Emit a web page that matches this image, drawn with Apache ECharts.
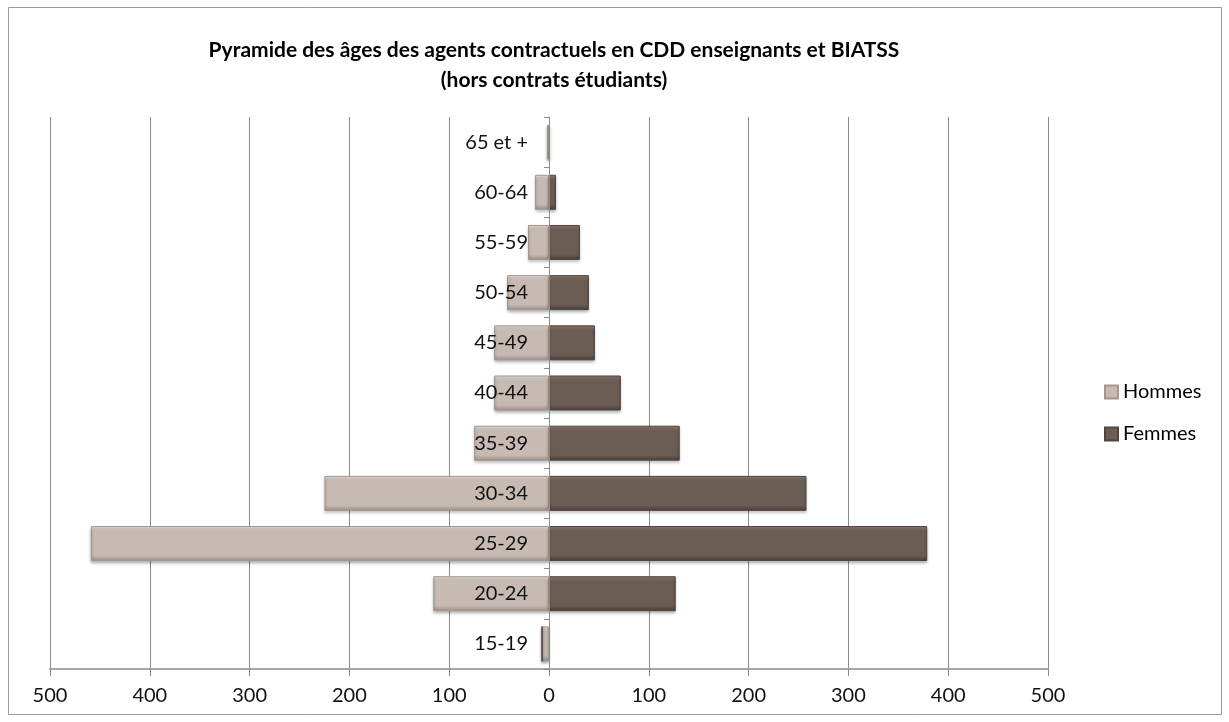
<!DOCTYPE html>
<html>
<head>
<meta charset="UTF-8">
<title>Pyramide des âges</title>
<script src="https://cdn.jsdelivr.net/npm/echarts@6/dist/echarts.min.js"></script>
<style>
body { margin: 0; padding: 0; background: #fff; }
#main { width: 1229px; height: 722px; }
</style>
</head>
<body>
<div id="main"></div>
<script>
// tranches d'âge, du bas vers le haut
var ages = ['15-19', '20-24', '25-29', '30-34', '35-39', '40-44', '45-49', '50-54', '55-59', '60-64', '65 et +'];
// hommes en négatif pour le côté gauche
var hommes = [-7, -116, -459, -225, -75, -55, -55, -42, -21, -14, -2];
var femmes = [0, 127, 379, 258, 131, 72, 46, 40, 31, 7, 1];
var ticks = [-500, -400, -300, -200, -100, 0, 100, 200, 300, 400, 500];

var font = 'Lato, "Noto Sans", sans-serif';

function bevel(light, base, dark) {
    return new echarts.graphic.LinearGradient(0, 0, 0, 1, [
        { offset: 0, color: light },
        { offset: 0.16, color: base },
        { offset: 0.84, color: base },
        { offset: 1, color: dark }
    ]);
}

var myChart = echarts.init(document.getElementById('main'));
var option = {
    animation: false,
    textStyle: { fontFamily: font },
    title: {
        text: 'Pyramide des âges des agents contractuels en CDD enseignants et BIATSS\n(hors contrats étudiants)',
        left: 549,
        top: 30,
        textAlign: 'center',
        textStyle: { fontFamily: font, fontSize: 21, fontWeight: 'bold', color: '#000', lineHeight: 30 }
    },
    legend: {
        orient: 'vertical',
        left: 1099,
        top: 377,
        itemWidth: 13,
        itemHeight: 13,
        itemGap: 22,
        icon: 'rect',
        textStyle: { fontFamily: font, fontSize: 20, color: '#000' },
        data: ['Hommes', 'Femmes']
    },
    graphic: [{
        type: 'rect',
        shape: { x: 8.5, y: 7.5, width: 1213, height: 707 },
        style: { fill: 'none', stroke: '#9a9a9a', lineWidth: 1 },
        silent: true
    }],
    grid: { left: 50, right: 181, top: 117, bottom: 53, outerBoundsMode: 'none', containLabel: false },
    xAxis: {
        type: 'value',
        min: ticks[0],
        max: ticks[ticks.length - 1],
        interval: 100,
        axisLine: { show: true, onZero: false, lineStyle: { color: '#a6a6a6', width: 2 } },
        axisTick: { show: true, length: 7, lineStyle: { color: '#8a8a8a' } },
        splitLine: { show: true, lineStyle: { color: '#8a8a8a', width: 1 } },
        axisLabel: {
            margin: 17,
            fontSize: 20,
            color: '#111',
            fontFamily: font,
            formatter: function (v) { return Math.abs(v); }
        }
    },
    yAxis: {
        type: 'category',
        data: ages,
        z: 5,
        position: 'left',
        offset: -499,
        axisLine: { show: true, onZero: false, lineStyle: { color: '#8a8a8a', width: 1 } },
        axisTick: { show: true, length: 5, lineStyle: { color: '#8a8a8a' } },
        axisLabel: { margin: 21, fontSize: 20, color: '#111', fontFamily: font }
    },
    series: [
        {
            name: 'Hommes',
            type: 'bar',
            stack: 'pyr',
            barWidth: 35,
            data: hommes,
            itemStyle: {
                color: bevel('#ece5e0', '#c7bab2', '#9b8e87'),
                borderColor: '#a3968f',
                borderWidth: 1,
                shadowBlur: 3,
                shadowOffsetY: 2,
                shadowColor: 'rgba(0,0,0,0.3)'
            }
        },
        {
            name: 'Femmes',
            type: 'bar',
            stack: 'pyr',
            barWidth: 35,
            data: femmes,
            itemStyle: {
                color: bevel('#8f7f75', '#6c5d54', '#483d37'),
                borderColor: '#51453e',
                borderWidth: 1,
                shadowBlur: 3,
                shadowOffsetY: 2,
                shadowColor: 'rgba(0,0,0,0.3)'
            }
        }
    ]
};
myChart.setOption(option);
</script>
</body>
</html>
